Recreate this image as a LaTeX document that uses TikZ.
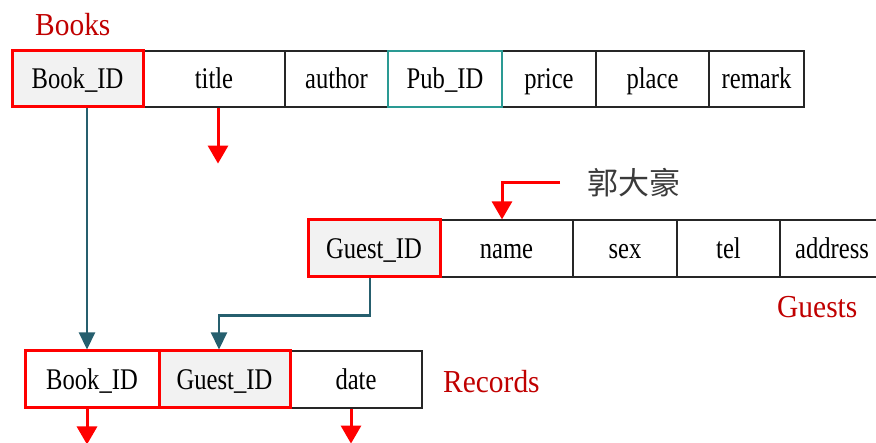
\documentclass[tikz,border=0pt]{standalone}
\usepackage{fontspec}
\setmainfont{Liberation Serif}[FakeStretch=0.82]
\newfontfamily\labelfont{Liberation Serif}[FakeStretch=0.92]
\newfontfamily\cjkfont{Noto Sans CJK TC}
\usetikzlibrary{arrows.meta,calc}
\definecolor{keyred}{HTML}{FF0000}
\definecolor{labelred}{HTML}{C00000}
\definecolor{linkteal}{HTML}{265F6E}
\definecolor{pubteal}{HTML}{2A9A93}
\definecolor{keyfill}{HTML}{F2F2F2}
\definecolor{cellline}{HTML}{262626}
\definecolor{notegray}{HTML}{3A3A3A}
\begin{document}
\begin{tikzpicture}[x=1pt,y=-1pt,
  cell/.style={draw=cellline, line width=1.2pt, inner sep=0pt, minimum height=56pt,
    text height=19.5pt, text depth=0pt, font=\fontsize{30}{32}\selectfont},
  pkcell/.style={cell, draw=keyred, line width=3pt},
  fkcell/.style={cell, draw=pubteal, line width=1.6pt},
  tablename/.style={anchor=base west, inner sep=0pt, text=labelred, font=\labelfont\fontsize{32}{35}\selectfont},
  fklink/.style={draw=linkteal, line width=2.2pt, -{Triangle[length=17pt,width=16pt]}},
  redarrow/.style={draw=keyred, line width=3pt, -{Triangle[length=18pt,width=20pt]}}]
\useasboundingbox (0,0) rectangle (876,443);

% Books table
\node[tablename] (lbooks) at (35,36) {Books};
\node[cell, minimum width=142pt] (bTitle) at (214,79) {title};
\node[cell, minimum width=103pt] (bAuthor) at (336.5,79) {author};
\node[cell, minimum width=94pt] (bPrice) at (549,79) {price};
\node[cell, minimum width=113pt] (bPlace) at (652.5,79) {place};
\node[cell, minimum width=95pt] (bRemark) at (756.5,79) {remark};
\node[fkcell, minimum width=114pt] (bPub) at (445,79) {Pub\_ID};
\node[pkcell, fill=keyfill, minimum width=131pt] (bBook) at (77.5,79) {Book\_ID};

% Guests table
\node[cell, minimum width=133pt, minimum height=57pt] (gName) at (506.5,248.5) {name};
\node[cell, minimum width=104pt, minimum height=57pt] (gSex) at (625,248.5) {sex};
\node[cell, minimum width=103pt, minimum height=57pt] (gTel) at (728.5,248.5) {tel};
\node[cell, minimum width=104pt, minimum height=57pt] (gAddr) at (832,248.5) {address};
\node[pkcell, fill=keyfill, minimum width=132pt, minimum height=57pt] (gGuest) at (374,248.5) {Guest\_ID};
\node[tablename] (lguests) at (777,318) {Guests};

% Records table
\node[cell, minimum width=132pt, minimum height=57pt] (rDate) at (356,379.5) {date};
\node[pkcell, minimum width=134pt, minimum height=57pt] (rBook) at (92,379.5) {Book\_ID};
\node[pkcell, fill=keyfill, minimum width=131pt, minimum height=57pt] (rGuest) at (224.5,379.5) {Guest\_ID};
\node[tablename] (lrecords) at (443,393) {Records};

% sample value for the name column
\node[anchor=west, inner sep=0pt, text=notegray, font=\cjkfont\fontsize{31}{33}\selectfont] (kuo) at (587,183) {郭大豪};

% foreign key links
\draw[fklink] ($(bBook.south)+(9.5,0)$) coordinate (bk) -- (bk |- rBook.north);
\draw[fklink] ($(gGuest.south)+(-4,0)$) -- ++(0,37) -| ($(rGuest.north)+(-5.5,0)$);

% red pointers
\draw[redarrow] ($(bTitle.south)+(4,0)$) -- ++(0,56);
\draw[redarrow] ($(kuo.west)+(-27,0)$) -| ($(gName.north)+(-4.5,0)$);
\draw[redarrow] ($(rBook.south)+(-5,0)$) -- ++(0,35);
\draw[redarrow] ($(rDate.south)+(-5,0)$) -- ++(0,35);
\end{tikzpicture}
\end{document}
